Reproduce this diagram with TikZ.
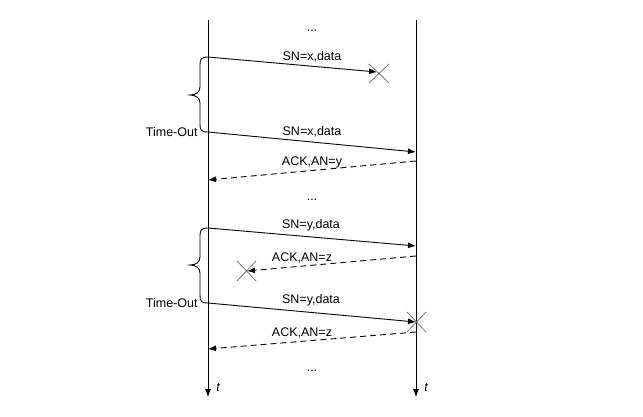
\documentclass[tikz,border=0pt]{standalone}
\usepackage{fontspec}
\setmainfont{Liberation Sans}
\usetikzlibrary{arrows.meta}
\begin{document}
\begin{tikzpicture}[x=1pt,y=-1pt,
  line width=0.9pt,
  msg/.style={draw=black,-{Latex[length=8pt,width=6pt]}},
  ackmsg/.style={msg,dash pattern=on 6pt off 4pt},
  lbl/.style={font=\fontsize{12.5}{14}\selectfont,inner sep=0pt},
  crossmark/.style={draw=black!55,line width=0.8pt},
  bracepath/.style={draw=black,line width=0.9pt}]
\useasboundingbox (0,0) rectangle (643,416);
% timelines
\coordinate (Ltop) at (208,20);
\coordinate (Lbot) at (208,397);
\coordinate (Rtop) at (416,20);
\coordinate (Rbot) at (416,397);
\draw[msg] (Ltop) -- (Lbot);
\draw[msg] (Rtop) -- (Rbot);
\node[lbl,font=\fontsize{12.5}{14}\selectfont\itshape] (tL) at (218,388) {t};
\node[lbl,font=\fontsize{12.5}{14}\selectfont\itshape] (tR) at (426,388) {t};
% dots
\node[lbl] (d1) at (312,31) {...};
\node[lbl] (d2) at (312,200) {...};
\node[lbl] (d3) at (312,371) {...};
% endpoints
\coordinate (a1s) at (208,57);  \coordinate (a1e) at (377,72);
\coordinate (a2s) at (208,132); \coordinate (a2e) at (416,152);
\coordinate (a3s) at (416,161); \coordinate (a3e) at (208,180);
\coordinate (a4s) at (208,228); \coordinate (a4e) at (416,246);
\coordinate (a5s) at (416,256); \coordinate (a5e) at (247,271);
\coordinate (a6s) at (208,303); \coordinate (a6e) at (416,322);
\coordinate (a7s) at (416,332); \coordinate (a7e) at (208,349);
% messages
\draw[msg] (a1s) -- (a1e);
\draw[msg] (a2s) -- (a2e);
\draw[ackmsg] (a3s) -- (a3e);
\draw[msg] (a4s) -- (a4e);
\draw[ackmsg] (a5s) -- (a5e);
\draw[msg] (a6s) -- (a6e);
\draw[ackmsg] (a7s) -- (a7e);
% labels
\node[lbl] (l1) at (312,57) {SN=x,data};
\node[lbl] (l2) at (312,132) {SN=x,data};
\node[lbl] (l3) at (312,162) {ACK,AN=y};
\node[lbl] (l4) at (311,225) {SN=y,data};
\node[lbl] (l5) at (302,258) {ACK,AN=z};
\node[lbl] (l6) at (311,300) {SN=y,data};
\node[lbl] (l7) at (302,333) {ACK,AN=z};
% crosses
\draw[crossmark] (369,64) -- (389,83) (369,83) -- (389,64);
\draw[crossmark] (237,261) -- (256,281) (237,281) -- (256,261);
\draw[crossmark] (407,312) -- (426,332) (407,332) -- (426,312);
% braces
\draw[bracepath] (a1s) .. controls (201,57) and (200,59) .. (200,66) -- (200,87)
  .. controls (200,92) and (196,95) .. (190,95)
  .. controls (196,95) and (200,98) .. (200,103) -- (200,124)
  .. controls (200,130) and (201,132) .. (a2s);
\draw[bracepath] (a4s) .. controls (201,228) and (200,230) .. (200,237) -- (200,257)
  .. controls (200,262) and (196,265) .. (190,265)
  .. controls (196,265) and (200,268) .. (200,273) -- (200,295)
  .. controls (200,301) and (201,303) .. (a6s);
\node[lbl,anchor=east] (to1) at (198,132) {Time-Out};
\node[lbl,anchor=east] (to2) at (198,303) {Time-Out};
\end{tikzpicture}
\end{document}
